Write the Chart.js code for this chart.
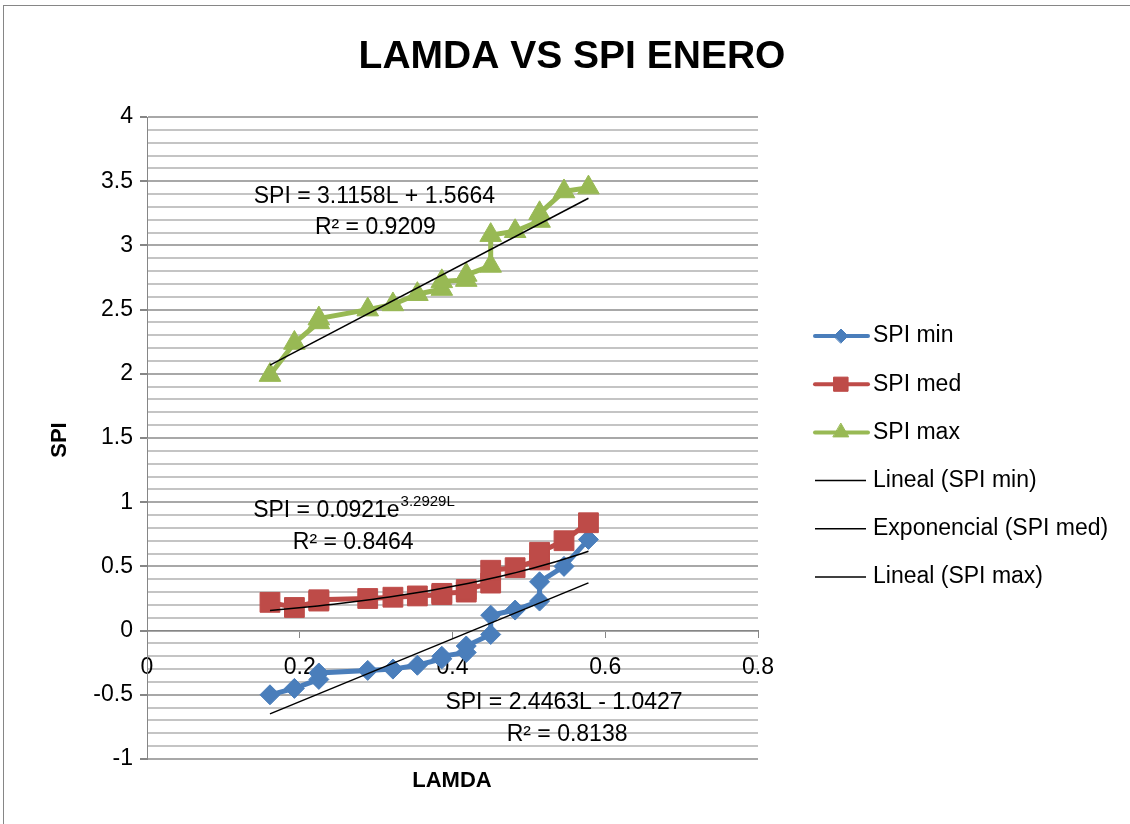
<!DOCTYPE html>
<html>
<head>
<meta charset="utf-8">
<title>LAMDA VS SPI ENERO</title>
<script src="https://cdn.jsdelivr.net/npm/chart.js@4.4.1/dist/chart.umd.min.js"></script>
<style>
  html, body { margin: 0; padding: 0; background: #fff; }
  #wrap { position: relative; width: 1130px; height: 824px; }
</style>
</head>
<body>
<div id="wrap"><canvas id="myChart" width="1130" height="824"></canvas></div>
<script>
// valores (LAMDA en x, SPI en y)
var lamda  = [0.161, 0.193, 0.225, 0.225, 0.289, 0.322, 0.354, 0.386, 0.386, 0.418, 0.418, 0.450, 0.450, 0.482, 0.514, 0.514, 0.546, 0.578];
var spiMin = [-0.50, -0.45, -0.38, -0.33, -0.31, -0.30, -0.27, -0.22, -0.20, -0.17, -0.12, -0.03, 0.12, 0.16, 0.23, 0.38, 0.50, 0.71];
var spiMed = [0.22, 0.18, 0.23, 0.24, 0.25, 0.26, 0.27, 0.28, 0.29, 0.30, 0.32, 0.37, 0.47, 0.49, 0.55, 0.61, 0.70, 0.84];
var spiMax = [1.99, 2.24, 2.40, 2.43, 2.50, 2.54, 2.62, 2.66, 2.72, 2.73, 2.77, 2.84, 3.08, 3.11, 3.19, 3.25, 3.42, 3.45];

var seriesNames = ["SPI min", "SPI med", "SPI max"];
var trendNames = ["Lineal (SPI min)", "Exponencial (SPI med)", "Lineal (SPI max)"];

// ejes
var xRange = [0, 0.8];
var yRange = [-1, 4];
var yMajor = [-1, -0.5, 0, 0.5, 1, 1.5, 2, 2.5, 3, 3.5, 4];

// lineas de tendencia (coeficientes de Excel)
var trendMin = [2.4463, -1.0427];   // SPI = aL + b
var trendMed = [0.0921, 3.2929];    // SPI = a e^(bL)
var trendMax = [3.1158, 1.5664];    // SPI = aL + b
var r2 = [0.8138, 0.8464, 0.9209];

var FONT = "'Liberation Sans', Arial, sans-serif";
var BLUE = "#4a7ebb", RED = "#be4b48", GREEN = "#98b954";

function pts(ys) {
  return lamda.map(function (x, i) { return { x: x, y: ys[i] }; });
}
var lo = Math.min.apply(null, lamda), hi = Math.max.apply(null, lamda);
function linTrend(c) {
  return [{ x: lo, y: c[0] * lo + c[1] }, { x: hi, y: c[0] * hi + c[1] }];
}
function expTrend(c) {
  var out = [];
  for (var i = 0; i <= 40; i++) {
    var x = lo + (hi - lo) * i / 40;
    out.push({ x: x, y: c[0] * Math.exp(c[1] * x) });
  }
  return out;
}
function isMajor(v) {
  return yMajor.some(function (m) { return Math.abs(m - v) < 1e-6; });
}

function serie(label, ys, color, style, r, ord) {
  return {
    label: label, data: pts(ys), showLine: true, tension: 0,
    borderColor: color, backgroundColor: color, borderWidth: 5,
    pointStyle: style, pointRadius: r, pointHoverRadius: r,
    pointBackgroundColor: color, pointBorderColor: color, pointBorderWidth: 1,
    order: ord
  };
}
function trend(label, data) {
  return {
    label: label, data: data, showLine: true, tension: 0,
    borderColor: "#000", borderWidth: 1.5, pointRadius: 0, order: 0
  };
}

function fmt(n) { return n.toFixed(4); }

// textos: titulo, ejes, ecuaciones y leyenda
var extras = {
  id: "extras",
  beforeDraw: function (chart) {
    var c = chart.ctx;
    c.save();
    c.strokeStyle = "#868686";
    c.lineWidth = 1;
    c.strokeRect(3.5, 5.5, 1200, 900);
    c.restore();
  },
  afterDraw: function (chart) {
    var c = chart.ctx, xs = chart.scales.x, ys = chart.scales.y;
    c.save();
    c.fillStyle = "#000";
    c.textBaseline = "middle";

    c.textAlign = "center";
    c.font = "bold 39px " + FONT;
    c.fillText("LAMDA VS SPI ENERO", 572, 57);

    c.font = "bold 22px " + FONT;
    c.fillText("LAMDA", 452, 781);
    c.save();
    c.translate(60, 440);
    c.rotate(-Math.PI / 2);
    c.fillText("SPI", 0, 0);
    c.restore();

    // ecuaciones
    c.font = "23px " + FONT;
    var px = function (v) { return xs.getPixelForValue(v); };
    var py = function (v) { return ys.getPixelForValue(v); };
    c.fillText("SPI = " + fmt(trendMax[0]) + "L + " + fmt(trendMax[1]), px(0.2977), py(3.377));
    c.fillText("R\u00b2 = " + fmt(r2[2]), px(0.299), py(3.136));

    c.fillText("SPI = " + fmt(trendMin[0]) + "L - " + fmt(-trendMin[1]), px(0.546), py(-0.560));
    c.fillText("R\u00b2 = " + fmt(r2[0]), px(0.550), py(-0.809));

    c.textAlign = "left";
    var t1 = "SPI = " + fmt(trendMed[0]) + "e";
    var x0 = px(0.139), y0 = py(0.934);
    c.fillText(t1, x0, y0);
    var w1 = c.measureText(t1).width;
    c.font = "15px " + FONT;
    c.fillText(fmt(trendMed[1]) + "L", x0 + w1 + 1, y0 - 9);
    c.font = "23px " + FONT;
    c.textAlign = "center";
    c.fillText("R\u00b2 = " + fmt(r2[1]), px(0.270), py(0.685));

    // leyenda
    var items = [
      { t: seriesNames[0], col: BLUE, st: "rectRot", r: 7 },
      { t: seriesNames[1], col: RED, st: "rect", r: 10 },
      { t: seriesNames[2], col: GREEN, st: "triangle", r: 9 },
      { t: trendNames[0] },
      { t: trendNames[1] },
      { t: trendNames[2] }
    ];
    c.textAlign = "left";
    items.forEach(function (it, i) {
      var y = 336 + i * 48.2;
      if (it.col) {
        c.strokeStyle = it.col;
        c.fillStyle = it.col;
        c.lineWidth = 4;
        c.lineCap = "round";
        c.beginPath(); c.moveTo(815, y); c.lineTo(868, y); c.stroke();
        c.lineWidth = 1;
        Chart.helpers.drawPoint(c, { pointStyle: it.st, radius: it.r, rotation: 0, borderWidth: 1 }, 841, y);
      } else {
        c.strokeStyle = "#000";
        c.lineWidth = 1.5;
        c.lineCap = "butt";
        c.beginPath(); c.moveTo(815, y); c.lineTo(866, y); c.stroke();
      }
      c.fillStyle = "#000";
      c.font = "23px " + FONT;
      c.fillText(it.t, 873, y);
    });
    c.restore();
  }
};

var ctx = document.getElementById("myChart");
var myChart = new Chart(ctx, {
  type: "scatter",
  data: {
    datasets: [
      trend(trendNames[0], linTrend(trendMin)),
      trend(trendNames[1], expTrend(trendMed)),
      trend(trendNames[2], linTrend(trendMax)),
      serie(seriesNames[2], spiMax, GREEN, "triangle", 12.5, 1),
      serie(seriesNames[1], spiMed, RED, "rect", 14, 2),
      serie(seriesNames[0], spiMin, BLUE, "rectRot", 10, 3)
    ]
  },
  options: {
    responsive: false,
    animation: false,
    events: [],
    layout: { padding: { top: 117, right: 372, bottom: 65, left: 0 } },
    plugins: { legend: { display: false }, title: { display: false }, tooltip: { enabled: false } },
    scales: {
      x: {
        type: "linear",
        position: { y: 0 },
        min: xRange[0], max: xRange[1],
        ticks: { stepSize: 0.2, color: "#000", font: { family: FONT, size: 23 }, padding: 16, maxRotation: 0 },
        grid: { drawOnChartArea: false, drawTicks: true, tickLength: 7, tickColor: "#868686" },
        border: { color: "#868686", width: 1 }
      },
      y: {
        type: "linear",
        min: yRange[0], max: yRange[1],
        afterFit: function (s) { s.width = 147; },
        ticks: {
          stepSize: 0.1, autoSkip: false, maxTicksLimit: 100,
          color: "#000", font: { family: FONT, size: 23 }, padding: 7,
          callback: function (v) { return isMajor(v) ? String(Math.round(v * 10) / 10) : ""; }
        },
        grid: {
          tickLength: 7,
          lineWidth: 2,
          color: function (c) { return isMajor(c.tick.value) ? "#a8a8a8" : "#c4c4c4"; },
          tickColor: function (c) { return isMajor(c.tick.value) ? "#868686" : "rgba(0,0,0,0)"; }
        },
        border: { color: "#868686", width: 1 }
      }
    }
  },
  plugins: [extras]
});
</script>
</body>
</html>
